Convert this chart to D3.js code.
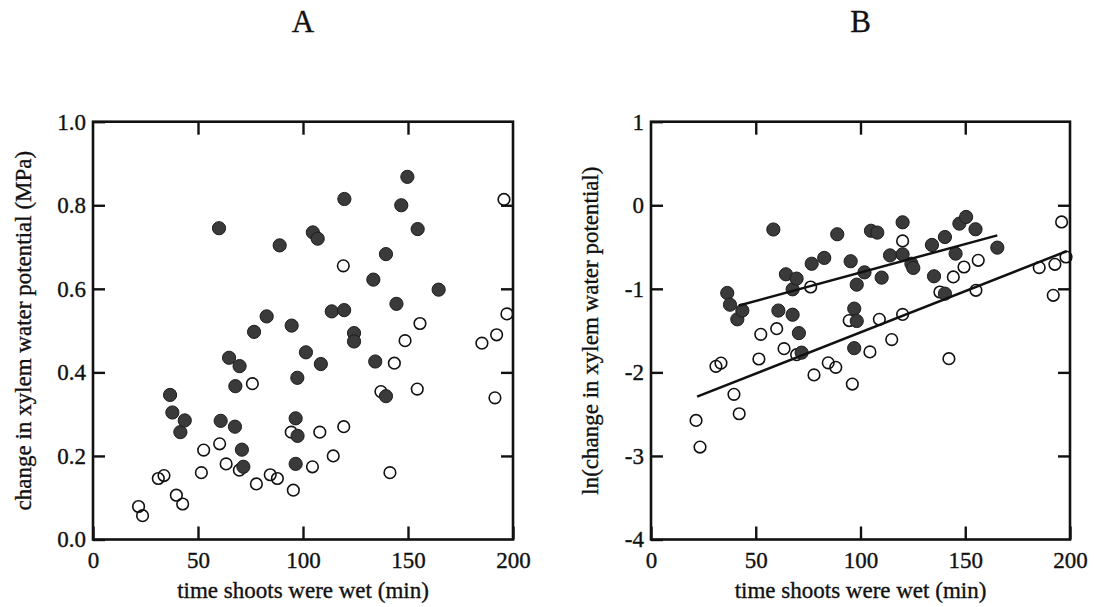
<!DOCTYPE html>
<html>
<head>
<meta charset="utf-8">
<script src="https://cdn.jsdelivr.net/npm/d3@7"></script>
<style>
  body { margin: 0; background: #fff; }
  svg text { font-family: "Liberation Serif", "Times New Roman", serif; fill: #111; stroke: #111; stroke-width: 0.35px; }
</style>
</head>
<body>
<div id="chart"></div>
<script>
// panel A: change in xylem water potential (MPa) vs time wet (min)
const openA = [[21.7,0.079],[23.6,0.057],[31.1,0.146],[33.8,0.153],[39.7,0.106],[42.7,0.085],
  [51.6,0.16],[52.7,0.214],[60.3,0.229],[63.4,0.181],[69.7,0.166],[75.9,0.373],[77.8,0.133],
  [84.4,0.155],[87.8,0.146],[94.4,0.257],[95.4,0.118],[104.5,0.174],[108,0.257],[114.4,0.2],
  [119.2,0.655],[119.4,0.27],[137.1,0.354],[141.4,0.16],[143.5,0.422],[148.6,0.476],[154.4,0.36],
  [155.7,0.517],[185.2,0.47],[191.4,0.339],[192.2,0.49],[195.7,0.814],[197.1,0.54]];

const filledA = [[36.7,0.346],[37.8,0.304],[41.6,0.257],[43.7,0.285],[60,0.745],[60.8,0.284],
  [64.8,0.435],[67.6,0.27],[67.8,0.367],[69.8,0.415],[70.9,0.215],[71.6,0.174],[76.7,0.497],
  [82.7,0.534],[88.9,0.704],[94.6,0.512],[96.5,0.29],[97.4,0.248],[96.5,0.181],[97.3,0.387],
  [101.4,0.448],[104.7,0.735],[107,0.72],[108.5,0.42],[113.7,0.546],[119.6,0.549],[119.7,0.815],
  [124.3,0.494],[124.3,0.474],[133.5,0.622],[134.4,0.426],[139.5,0.683],[139.5,0.343],
  [144.5,0.564],[146.8,0.8],[149.7,0.868],[154.6,0.743],[164.6,0.598]];

// panel B: ln(change in xylem water potential)
const openB = [[21.5,-2.575],[23.4,-2.894],[31,-1.928],[33.4,-1.889],[39.6,-2.263],[42.1,-2.495],
  [51.5,-1.84],[52.4,-1.545],[60,-1.477],[63.5,-1.716],[69.5,-1.788],[76.2,-0.978],[77.8,-2.03],
  [84.6,-1.886],[88.2,-1.94],[94.6,-1.38],[96.1,-2.14],[104.5,-1.755],[109,-1.365],[114.9,-1.608],
  [120.1,-1.306],[120.1,-0.427],[137.9,-1.038],[142.2,-1.836],[144.3,-0.858],[149.4,-0.739],
  [155.1,-1.018],[156.2,-0.659],[185.3,-0.746],[192,-1.078],[192.8,-0.707],[196,-0.2],[198.1,-0.619]];

const filledB = [[36.4,-1.05],[37.7,-1.19],[41.2,-1.365],[43.6,-1.26],[58.4,-0.29],[60.8,-1.26],
  [64.4,-0.826],[67.6,-1.31],[67.6,-1.006],[69.5,-0.878],[70.6,-1.53],[71.9,-1.764],[76.7,-0.7],
  [82.7,-0.63],[88.9,-0.347],[95.3,-0.67],[97,-1.237],[97,-1.71],[98.2,-1.385],[98.2,-0.95],
  [101.9,-0.803],[105,-0.305],[108,-0.327],[110.1,-0.866],[114.1,-0.6],[120.1,-0.587],[120.1,-0.204],
  [124.3,-0.7],[125.2,-0.75],[135.1,-0.85],[134.1,-0.475],[140.3,-0.38],[140.3,-1.058],[145.4,-0.579],
  [147.2,-0.22],[150.4,-0.14],[154.9,-0.287],[165.3,-0.507]];

// fitted lines (end points)
const fitFilledB = [[42,-1.2],[165.3,-0.36]];
const fitOpenB = [[22,-2.29],[198.4,-0.55]];

const xTicks = [0, 50, 100, 150, 200];
const yTicksA = [0, 0.2, 0.4, 0.6, 0.8, 1.0];
const yTicksB = [-4, -3, -2, -1, 0, 1];

const svg = d3.select('#chart').append('svg')
  .attr('width', 1094)
  .attr('height', 607);

const drawPanel = (opts) => {
  const x = d3.scaleLinear().domain([0, 200]).range([opts.left, opts.right]);
  const y = d3.scaleLinear().domain(opts.yDomain).range([opts.bottom, opts.top]);
  const g = svg.append('g');

  g.append('g')
    .attr('transform', `translate(0,${opts.bottom})`)
    .call(d3.axisBottom(x).tickValues(xTicks).tickSizeInner(-13).tickSizeOuter(0).tickPadding(12))
    .call(a => a.select('.domain').remove());

  g.append('g')
    .attr('transform', `translate(0,${opts.top})`)
    .call(d3.axisTop(x).tickValues(xTicks.slice(1, -1)).tickSizeInner(-13).tickSizeOuter(0).tickFormat(''))
    .call(a => a.select('.domain').remove());

  g.append('g')
    .attr('transform', `translate(${opts.left},0)`)
    .call(d3.axisLeft(y).tickValues(opts.yTicks).tickSizeInner(-12).tickSizeOuter(0).tickPadding(7).tickFormat(opts.fmt))
    .call(a => a.select('.domain').remove());

  g.append('g')
    .attr('transform', `translate(${opts.right},0)`)
    .call(d3.axisRight(y).tickValues(opts.yTicks.slice(1, -1)).tickSizeInner(-12).tickSizeOuter(0).tickFormat(''))
    .call(a => a.select('.domain').remove());

  g.selectAll('.tick line').attr('stroke', '#111').attr('stroke-width', 2.4);
  g.selectAll('.tick text').style('font-size', '23px').attr('fill', '#111');

  g.append('rect')
    .attr('x', opts.left).attr('y', opts.top)
    .attr('width', opts.right - opts.left).attr('height', opts.bottom - opts.top)
    .attr('fill', 'none').attr('stroke', '#111').attr('stroke-width', 2.6);

  g.append('g').selectAll('circle')
    .data(opts.open)
    .enter().append('circle')
    .attr('cx', d => x(d[0])).attr('cy', d => y(d[1])).attr('r', 5.8)
    .attr('fill', 'none').attr('stroke', '#111').attr('stroke-width', 1.6);

  g.append('g').selectAll('circle')
    .data(opts.filled)
    .enter().append('circle')
    .attr('cx', d => x(d[0])).attr('cy', d => y(d[1])).attr('r', 6.6)
    .attr('fill', '#3a3a3a').attr('stroke', '#1c1c1c').attr('stroke-width', 1);

  const line = d3.line().x(d => x(d[0])).y(d => y(d[1]));
  (opts.fits || []).forEach(f => {
    g.append('path').datum(f).attr('d', line)
      .attr('fill', 'none').attr('stroke', '#111').attr('stroke-width', 2.5);
  });

  const cx = (opts.left + opts.right) / 2;
  g.append('text').attr('x', cx).attr('y', 32)
    .attr('text-anchor', 'middle').style('font-size', '31px').text(opts.title);

  g.append('text').attr('x', cx).attr('y', 598)
    .attr('text-anchor', 'middle').style('font-size', '23px').text('time shoots were wet (min)');

  g.append('text')
    .attr('transform', `translate(${opts.yLabelX},${(opts.top + opts.bottom) / 2}) rotate(-90)`)
    .attr('text-anchor', 'middle').style('font-size', '23px').text(opts.yLabel);
};

drawPanel({
  left: 93, right: 513, top: 121.7, bottom: 539.5,
  yDomain: [0, 1], yTicks: yTicksA, fmt: d3.format('.1f'),
  open: openA, filled: filledA,
  title: 'A', yLabel: 'change in xylem water potential (MPa)', yLabelX: 31
});

drawPanel({
  left: 651, right: 1070, top: 121.7, bottom: 539.5,
  yDomain: [-4, 1], yTicks: yTicksB, fmt: d => String(d),
  open: openB, filled: filledB, fits: [fitFilledB, fitOpenB],
  title: 'B', yLabel: 'ln(change in xylem water potential)', yLabelX: 598
});
</script>
</body>
</html>
